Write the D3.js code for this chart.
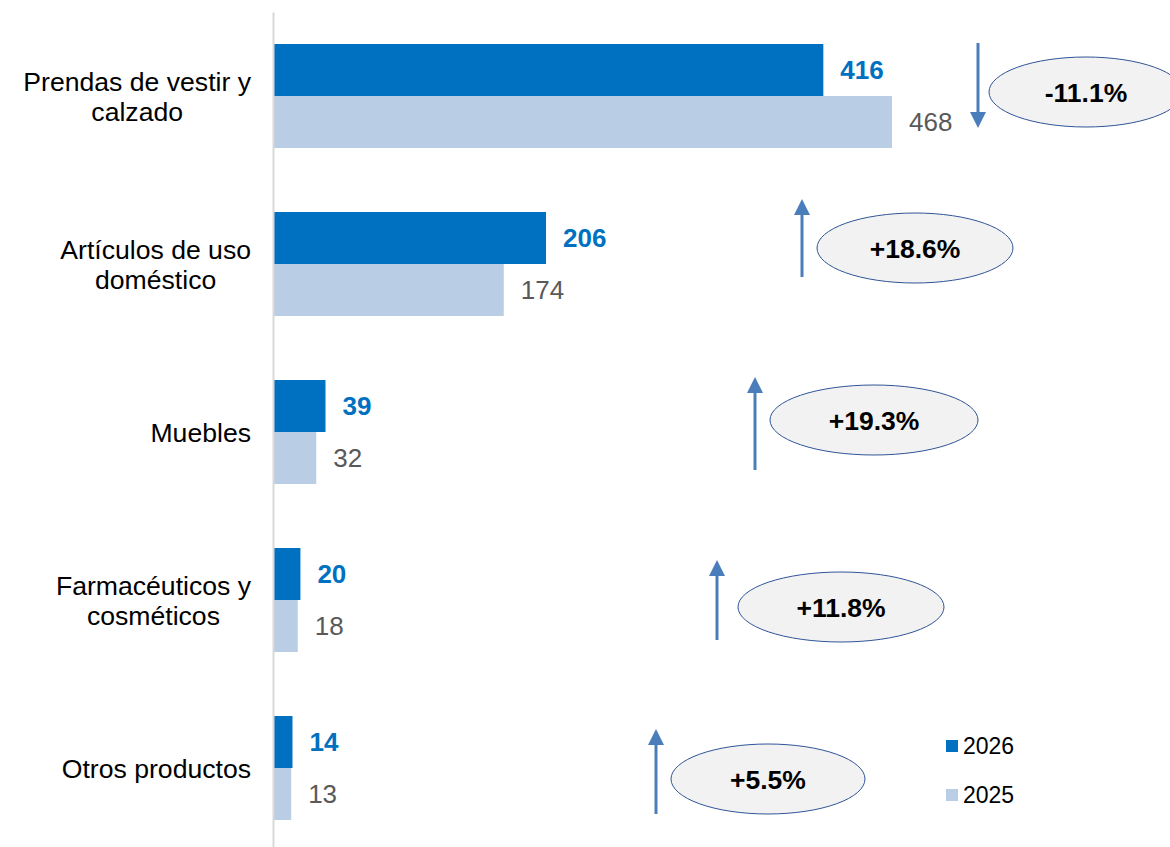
<!DOCTYPE html>
<html lang="es">
<head>
<meta charset="utf-8">
<title>Ventas por categoría</title>
<script src="https://d3js.org/d3.v7.min.js"></script>
<style>
  body { margin: 0; background: #fff; }
  text { font-family: "Liberation Sans", Arial, sans-serif; }
</style>
</head>
<body>
<div id="chart"></div>
<script>
// data
var categories = ["Prendas de vestir y\ncalzado", "Artículos de uso\ndoméstico", "Muebles", "Farmacéuticos y\ncosméticos", "Otros productos"];
var years = ["2026", "2025"];
var values2026 = [416, 206, 39, 20, 14];
var values2025 = [468, 174, 32, 18, 13];
var changes = ["-11.1%", "+18.6%", "+19.3%", "+11.8%", "+5.5%"];

// annotation placement (arrow x, arrow top, arrow bottom, ellipse centre and radius)
var notes = [
  {ax: 978, y0: 43,  y1: 128, cx: 1086, cy: 92,  rx: 97},
  {ax: 802, y0: 199, y1: 277, cx: 915,  cy: 248, rx: 98},
  {ax: 755, y0: 377, y1: 470, cx: 874,  cy: 420, rx: 104},
  {ax: 717, y0: 560, y1: 640, cx: 841,  cy: 607, rx: 103},
  {ax: 656, y0: 729, y1: 814, cx: 768,  cy: 779, rx: 97}
];

var W = 1170, H = 847;
var colors = {"2026": "#0070C0", "2025": "#B9CDE5"};

var svg = d3.select("#chart").append("svg")
  .attr("width", W)
  .attr("height", H);

var x = d3.scaleLinear().domain([0, 500]).range([274, 274 + 500 * 1.3205]);
var y = d3.scaleBand().domain(categories).range([12, 852])
  .paddingInner(0.381).paddingOuter(0.1905);
var sub = d3.scaleBand().domain(years).range([0, y.bandwidth()]);

var rows = categories.map(function(c, i) {
  return {cat: c, "2026": values2026[i], "2025": values2025[i], change: changes[i], note: notes[i]};
});

// bars
var g = svg.selectAll("g.cat").data(rows).enter().append("g")
  .attr("class", "cat")
  .attr("transform", function(d) { return "translate(0," + y(d.cat) + ")"; });

years.forEach(function(yr) {
  g.append("rect")
    .attr("x", x(0))
    .attr("y", sub(yr))
    .attr("width", function(d) { return x(d[yr]) - x(0); })
    .attr("height", sub.bandwidth())
    .attr("fill", colors[yr]);

  g.append("text")
    .attr("x", function(d) { return x(d[yr]) + 17; })
    .attr("y", sub(yr) + sub.bandwidth() / 2)
    .attr("dy", "0.36em")
    .attr("font-size", "26px")
    .attr("font-weight", yr == "2026" ? "bold" : "normal")
    .attr("fill", yr == "2026" ? "#0070C0" : "#595959")
    .text(function(d) { return d[yr]; });
});

// axis line
var axis = svg.append("g")
  .attr("transform", "translate(273,0)")
  .call(d3.axisLeft(y).tickSize(0).tickFormat(""));
axis.select(".domain").attr("stroke", "#d9d9d9").attr("stroke-width", 2);

// category labels: block right-aligned, lines centred inside the block
svg.selectAll("g.lbl").data(rows).enter().append("g")
  .attr("class", "lbl")
  .each(function(d) {
    var lines = d.cat.split("\n");
    var sel = d3.select(this);
    var cy = y(d.cat) + y.bandwidth() / 2;
    var texts = lines.map(function(l, k) {
      return sel.append("text")
        .attr("y", cy + (k - (lines.length - 1) / 2) * 30)
        .attr("dy", "0.36em")
        .attr("font-size", "26.6px")
        .attr("fill", "#000")
        .attr("text-anchor", "middle")
        .text(l);
    });
    var maxW = d3.max(texts, function(t) { return t.node().getComputedTextLength(); });
    texts.forEach(function(t) { t.attr("x", 251 - maxW / 2); });
  });

// arrows and change bubbles
var ann = svg.selectAll("g.ann").data(rows).enter().append("g").attr("class", "ann");

ann.each(function(d) {
  var n = d.note, s = d3.select(this);
  var up = d.change.charAt(0) == "+";
  var tip = up ? n.y0 : n.y1;
  var base = up ? n.y0 + 16 : n.y1 - 16;
  s.append("line")
    .attr("x1", n.ax).attr("x2", n.ax)
    .attr("y1", up ? base : n.y0)
    .attr("y2", up ? n.y1 : base)
    .attr("stroke", "#4A7EBB")
    .attr("stroke-width", 3);
  s.append("path")
    .attr("d", "M" + (n.ax - 8) + "," + base + "L" + (n.ax + 8) + "," + base + "L" + n.ax + "," + tip + "Z")
    .attr("fill", "#4A7EBB");
  s.append("ellipse")
    .attr("cx", n.cx).attr("cy", n.cy)
    .attr("rx", n.rx).attr("ry", 35)
    .attr("fill", "#F2F2F2")
    .attr("stroke", "#2F5597")
    .attr("stroke-width", 1);
  s.append("text")
    .attr("x", n.cx).attr("y", n.cy)
    .attr("dy", "0.36em")
    .attr("text-anchor", "middle")
    .attr("font-size", "26.5px")
    .attr("font-weight", "bold")
    .attr("fill", "#000")
    .text(d.change);
});

// legend
var leg = svg.selectAll("g.leg").data(years).enter().append("g")
  .attr("class", "leg")
  .attr("transform", function(d, i) { return "translate(946," + (740 + i * 49) + ")"; });
leg.append("rect").attr("width", 12).attr("height", 12)
  .attr("fill", function(d) { return colors[d]; });
leg.append("text")
  .attr("x", 17).attr("y", 6)
  .attr("dy", "0.36em")
  .attr("font-size", "23px")
  .attr("fill", "#000")
  .text(function(d) { return d; });
</script>
</body>
</html>
